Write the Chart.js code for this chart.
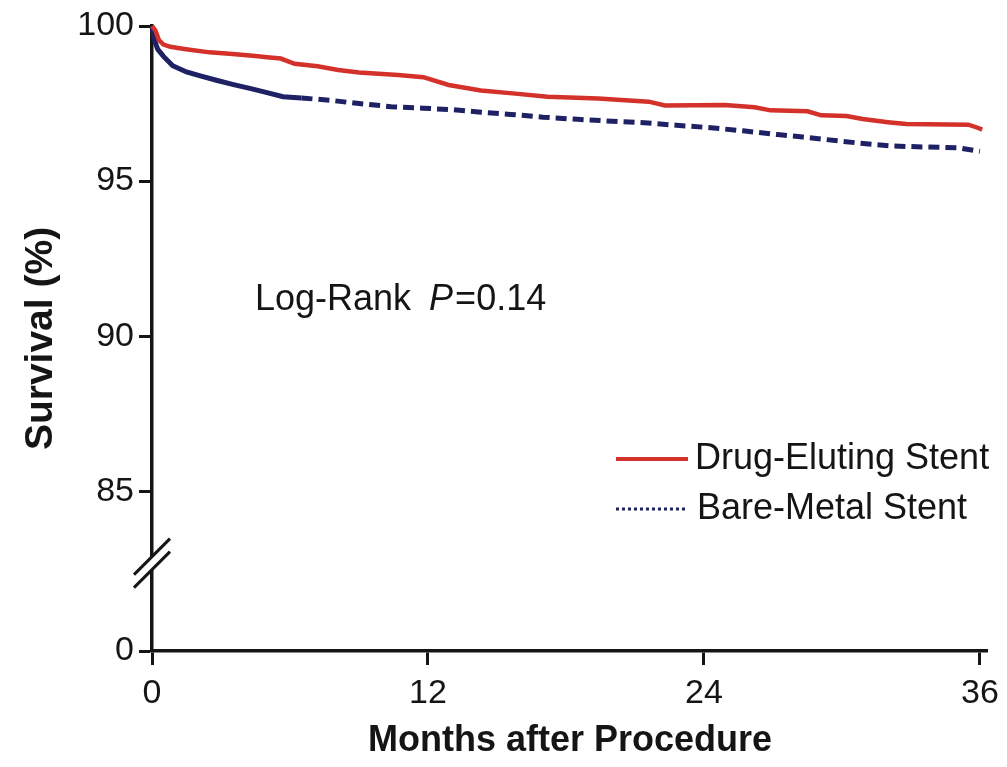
<!DOCTYPE html>
<html><head><meta charset="utf-8">
<script src="https://cdn.jsdelivr.net/npm/chart.js@4.4.0/dist/chart.umd.min.js"></script>
<style>html,body{margin:0;padding:0;background:#fff;} #wrap{width:1007px;height:767px;position:relative;}</style>
</head><body><div id="wrap"><canvas id="c" width="1007" height="767"></canvas></div>
<script>
// ---- data ----
const desMonths   = [0, 0.15, 0.3, 0.5, 0.8, 1.4, 2.5, 3.5, 4.5, 5.0, 5.6, 6.2, 7.2, 8.1, 9.0, 10.7, 11.8, 12.9, 14.3, 15.8, 17.2, 19.4, 21.6, 22.3, 24.9, 26.2, 26.9, 28.5, 29.1, 30.2, 30.9, 32.0, 32.8, 35.5, 35.9, 36.1];
const desSurvival = [100, 99.85, 99.55, 99.4, 99.33, 99.26, 99.15, 99.1, 99.03, 98.99, 98.95, 98.78, 98.7, 98.58, 98.5, 98.42, 98.35, 98.1, 97.92, 97.82, 97.72, 97.66, 97.56, 97.44, 97.45, 97.38, 97.28, 97.25, 97.12, 97.1, 97.0, 96.9, 96.84, 96.82, 96.72, 96.66];
const bmsMonths   = [0, 0.1, 0.25, 0.5, 0.9, 1.5, 2.1, 2.8, 3.5, 4.3, 5.0, 5.7, 6.5, 7.8, 9.0, 10.4, 11.8, 13.1, 14.3, 15.6, 17.0, 18.5, 20.0, 21.4, 22.8, 24.3, 25.7, 27.2, 28.3, 29.3, 30.8, 32.2, 33.6, 35.1, 36.0];
const bmsSurvival = [100, 99.55, 99.25, 99.02, 98.72, 98.52, 98.39, 98.25, 98.12, 97.98, 97.85, 97.72, 97.68, 97.6, 97.5, 97.4, 97.35, 97.3, 97.22, 97.15, 97.06, 96.99, 96.93, 96.88, 96.8, 96.72, 96.62, 96.5, 96.42, 96.34, 96.22, 96.13, 96.1, 96.07, 95.96];
const xTickValues = [0, 12, 24, 36];
const yTickLabels = [0, 85, 90, 95, 100];
const seriesNames = ['Drug-Eluting Stent', 'Bare-Metal Stent'];
const annotationParts = ['Log-Rank ', 'P', '=0.14'];
const xTitle = 'Months after Procedure';
const yTitle = 'Survival (%)';

// broken y axis: values below the break are shifted up to sit under the 85 tick
const BREAK_BASE = 79.85;
function toAxis(v) { return v < 50 ? BREAK_BASE + v : v; }
function fromAxis(v) { return v < 80 ? Math.round(v - BREAK_BASE) : v; }

const RED = '#d3312a', NAVY = '#1e2163', INK = '#151515';
const FONT = '"Liberation Sans", Arial, sans-serif';

const pts = (xs, ys) => xs.map((m, i) => ({x: m, y: toAxis(ys[i])}));

const decor = {
  id: 'decor',
  afterDraw(chart) {
    const {ctx, chartArea: a, scales: {y}} = chart;
    ctx.save();
    // axis break marks
    const y85 = y.getPixelForValue(toAxis(85)), y0 = y.getPixelForValue(toAxis(0));
    const cy = y85 + 0.45 * (y0 - y85), cx = a.left, h = 18, g = 6.5;
    ctx.fillStyle = '#fff';
    ctx.beginPath();
    ctx.moveTo(cx - h, cy + h - g); ctx.lineTo(cx + h, cy - h - g);
    ctx.lineTo(cx + h, cy - h + g); ctx.lineTo(cx - h, cy + h + g);
    ctx.closePath(); ctx.fill();
    ctx.strokeStyle = INK; ctx.lineWidth = 3;
    for (const d of [-g, g]) {
      ctx.beginPath(); ctx.moveTo(cx - h, cy + h + d); ctx.lineTo(cx + h, cy - h + d); ctx.stroke();
    }
    // legend
    const lx = a.right - 372, ly1 = a.top + 433, ly2 = a.top + 483;
    ctx.lineWidth = 4; ctx.strokeStyle = RED; ctx.setLineDash([]);
    ctx.beginPath(); ctx.moveTo(lx, ly1); ctx.lineTo(lx + 72, ly1); ctx.stroke();
    ctx.lineWidth = 3; ctx.strokeStyle = NAVY; ctx.setLineDash([3, 3]);
    ctx.beginPath(); ctx.moveTo(lx, ly2); ctx.lineTo(lx + 70, ly2); ctx.stroke();
    ctx.setLineDash([]);
    ctx.fillStyle = INK; ctx.textBaseline = 'middle'; ctx.textAlign = 'left';
    ctx.font = '36px ' + FONT;
    ctx.fillText(seriesNames[0], lx + 79, ly1);
    ctx.fillText(seriesNames[1], lx + 81, ly2);
    // annotation
    let ax = a.left + 103; const ay = a.top + 274;
    ctx.font = '36px ' + FONT;
    ctx.fillText(annotationParts[0], ax, ay); ax += ctx.measureText(annotationParts[0]).width + 8;
    ctx.font = 'italic 36px ' + FONT;
    ctx.fillText(annotationParts[1], ax, ay); ax += ctx.measureText(annotationParts[1]).width + 2;
    ctx.font = '36px ' + FONT;
    ctx.fillText(annotationParts[2], ax, ay);
    ctx.restore();
  }
};

new Chart(document.getElementById('c'), {
  type: 'line',
  data: {
    datasets: [
      {label: seriesNames[0], data: pts(desMonths, desSurvival), borderColor: RED, borderWidth: 4.5,
       pointRadius: 0, tension: 0, fill: false, clip: false},
      {label: seriesNames[1], data: pts(bmsMonths, bmsSurvival), borderColor: NAVY, borderWidth: 5,
       pointRadius: 0, tension: 0, fill: false, clip: false,
       segment: {borderDash: c => c.p0.parsed.x < 6 ? [] : [11, 6]}}
    ]
  },
  options: {
    responsive: false, animation: false,
    layout: {padding: {left: 0, right: 17, top: 26, bottom: 0}},
    plugins: {legend: {display: false}, tooltip: {enabled: false}},
    scales: {
      x: {
        type: 'linear', min: 0, max: 36.35,
        afterBuildTicks: s => { s.ticks = xTickValues.map(v => ({value: v})); },
        afterFit: s => { s.height = 116; },
        ticks: {font: {family: FONT, size: 34}, color: INK, padding: 8},
        grid: {display: true, drawOnChartArea: false, drawTicks: true, tickLength: 14, tickColor: INK, tickWidth: 3},
        border: {display: true, color: INK, width: 3.5},
        title: {display: true, text: xTitle, color: INK, font: {family: FONT, size: 36, weight: 'bold'}, padding: {top: 0, bottom: 4}}
      },
      y: {
        type: 'linear', min: BREAK_BASE, max: 100,
        afterBuildTicks: s => { s.ticks = yTickLabels.map(v => ({value: toAxis(v)})); },
        afterFit: s => { s.width = 152; },
        ticks: {font: {family: FONT, size: 34}, color: INK, padding: 5, callback: v => String(fromAxis(v))},
        grid: {display: true, drawOnChartArea: false, drawTicks: true, tickLength: 13, tickColor: INK, tickWidth: 3},
        border: {display: true, color: INK, width: 3.5},
        title: {display: true, text: yTitle, color: INK, font: {family: FONT, size: 39, weight: 'bold'}, padding: {top: 18, bottom: 0}}
      }
    }
  },
  plugins: [decor]
});
</script></body></html>
